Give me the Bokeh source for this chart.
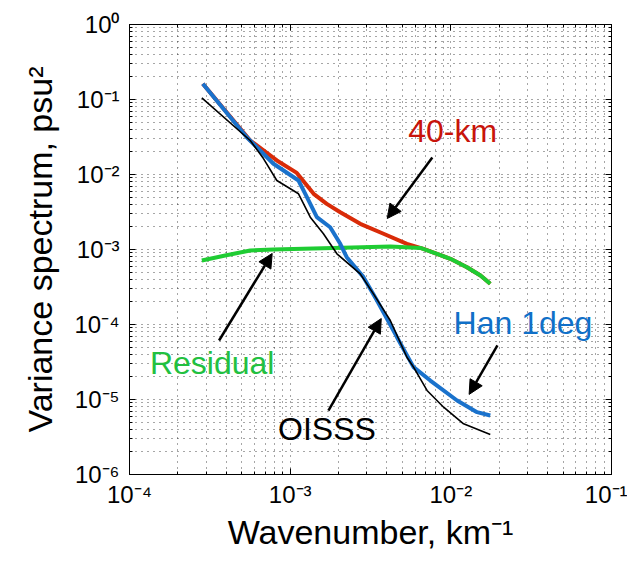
from bokeh.plotting import figure
from bokeh.models import (LogAxis, FixedTicker, CustomJSTickFormatter, Arrow,
                          NormalHead, Range1d, ColumnDataSource)
from bokeh.core.properties import value
from bokeh.embed import file_html
from bokeh.resources import INLINE

# ---------------- data ----------------
k_40km = [2.86e-4, 5.64e-4, 8.26e-4, 1.10e-3, 1.40e-3, 1.69e-3, 2.05e-3, 2.73e-3,
          3.81e-3, 5.33e-3, 6.76e-3, 8.20e-3, 9.93e-3, 1.26e-2, 1.53e-2, 1.76e-2]
s_40km = [0.162, 0.0284, 0.0154, 0.0105, 5.53e-3, 4.06e-3, 3.14e-3, 2.20e-3,
          1.62e-3, 1.19e-3, 1.02e-3, 8.77e-4, 7.52e-4, 5.81e-4, 4.50e-4, 3.49e-4]

k_resid = [2.82e-4, 3.94e-4, 5.64e-4, 7.87e-4, 1.85e-3, 4.20e-3, 6.46e-3, 8.20e-3,
           9.93e-3, 1.26e-2, 1.53e-2, 1.76e-2]
s_resid = [7.13e-4, 8.32e-4, 9.70e-4, 1.00e-3, 1.05e-3, 1.10e-3, 1.05e-3, 8.77e-4,
           7.52e-4, 5.81e-4, 4.50e-4, 3.49e-4]

k_han = [2.86e-4, 5.37e-4, 7.87e-4, 1.127e-3, 1.271e-3, 1.466e-3, 1.774e-3, 2.05e-3,
         2.25e-3, 2.86e-3, 3.47e-3, 4.62e-3, 5.86e-3, 7.45e-3, 1.094e-2, 1.456e-2, 1.76e-2]
s_han = [0.162, 0.0314, 0.0139, 8.32e-3, 4.98e-3, 2.70e-3, 1.98e-3, 1.19e-3,
         7.89e-4, 4.28e-4, 2.09e-4, 6.78e-5, 2.70e-5, 1.79e-5, 9.70e-6, 6.78e-6, 6.12e-6]

k_oisss = [2.82e-4, 5.64e-4, 6.82e-4, 8.26e-4, 1.127e-3, 1.334e-3, 1.611e-3, 1.954e-3,
           2.73e-3, 3.30e-3, 4.20e-3, 5.33e-3, 5.86e-3, 7.11e-3, 9.02e-3, 1.20e-2, 1.76e-2]
s_oisss = [0.1054, 0.0284, 0.0163, 8.32e-3, 5.53e-3, 2.70e-3, 1.62e-3, 8.77e-4,
           4.74e-4, 2.56e-4, 1.13e-4, 3.66e-5, 2.70e-5, 1.32e-5, 7.89e-6, 4.74e-6, 3.41e-6]

# annotations
ann_text = ["40-km", "Residual", "OISSS", "Han 1deg"]
ann_x = [5.43e-3, 1.34e-4, 8.41e-4, 1.04e-2]
ann_y = [3.86e-2, 3.11e-5, 4.10e-6, 1.06e-4]
ann_color = ["#c8140a", "#22c040", "#000000", "#1070c8"]

arrow_x0 = [7.67e-3, 3.61e-4, 1.73e-3, 1.95e-2]
arrow_y0 = [1.69e-2, 6.12e-5, 7.13e-6, 5.25e-5]
arrow_x1 = [4.02e-3, 7.73e-4, 3.69e-3, 1.30e-2]
arrow_y1 = [2.59e-3, 8.85e-4, 1.20e-4, 1.17e-5]

x_decades = [1e-4, 1e-3, 1e-2, 1e-1]
y_decades = [1e-6, 1e-5, 1e-4, 1e-3, 1e-2, 1e-1, 1e0]

FONT = "Liberation Sans"

p = figure(width=627, height=553, x_axis_type="log", y_axis_type="log",
           x_range=Range1d(1e-4, 1e-1), y_range=Range1d(1e-6, 1),
           output_backend="svg", toolbar_location=None,
           min_border_left=129, min_border_right=16, min_border_top=24,
           min_border_bottom=79)
p.background_fill_color = "white"
p.border_fill_color = "white"
p.outline_line_color = "black"
p.outline_line_width = 1

x_minor = [m * d for d in x_decades[:-1] for m in range(2, 10)]
y_minor = [m * d for d in y_decades[:-1] for m in range(2, 10)]

sup_js = """
const sup = {'-':'\u207b','0':'\u2070','1':'\u00b9','2':'\u00b2','3':'\u00b3','4':'\u2074',
             '5':'\u2075','6':'\u2076','7':'\u2077','8':'\u2078','9':'\u2079'};
const e = Math.round(Math.log10(tick));
return '10' + String(e).split('').map(c => sup[c]).join('');
"""

def style_axis(ax, labels=True):
    ax.axis_line_color = "black"
    ax.axis_line_width = 1
    ax.major_tick_in = 6
    ax.major_tick_out = 0
    ax.minor_tick_in = 3
    ax.minor_tick_out = 0
    ax.major_tick_line_color = "black"
    ax.minor_tick_line_color = "black"
    if labels:
        ax.major_label_text_font = FONT
        ax.major_label_text_font_size = "24px"
        ax.major_label_text_color = "black"
        ax.axis_label_text_font = FONT
        ax.axis_label_text_font_size = "34px"
        ax.axis_label_text_font_style = "normal"
        ax.axis_label_text_color = "black"

xa = p.below[0]
ya = p.left[0]
xa.ticker = FixedTicker(ticks=x_decades, minor_ticks=x_minor)
ya.ticker = FixedTicker(ticks=y_decades, minor_ticks=y_minor)
xa.formatter = CustomJSTickFormatter(code=sup_js)
ya.formatter = CustomJSTickFormatter(code=sup_js)
style_axis(xa)
style_axis(ya)
xa.axis_label = "Wavenumber, km\u207b\u00b9"
ya.axis_label = "Variance spectrum, psu\u00b2"
xa.major_label_standoff = 6
xa.axis_label_standoff = 2
ya.major_label_standoff = 10
ya.axis_label_standoff = 12

top = LogAxis(ticker=FixedTicker(ticks=x_decades, minor_ticks=x_minor),
              formatter=CustomJSTickFormatter(code="return ' ';"))
right = LogAxis(ticker=FixedTicker(ticks=y_decades, minor_ticks=y_minor),
                formatter=CustomJSTickFormatter(code="return ' ';"))
style_axis(top, labels=False)
style_axis(right, labels=False)
top.major_label_text_font_size = "1px"
right.major_label_text_font_size = "1px"
top.major_label_standoff = 0
right.major_label_standoff = 0
p.add_layout(top, "above")
p.add_layout(right, "right")

for g in (p.xgrid, p.ygrid):
    g.grid_line_color = "black"
    g.grid_line_dash = "1 5"
    g.grid_line_alpha = 0.7
    g.minor_grid_line_color = "black"
    g.minor_grid_line_dash = "1 5"
    g.minor_grid_line_alpha = 0.7

p.line(k_40km, s_40km, line_color="#d92b08", line_width=4)
p.line(k_resid, s_resid, line_color="#1fcc33", line_width=4)
p.line(k_han, s_han, line_color="#1a72cc", line_width=4)
p.line(k_oisss, s_oisss, line_color="black", line_width=1.6)

for x0, y0, x1, y1 in zip(arrow_x0, arrow_y0, arrow_x1, arrow_y1):
    p.add_layout(Arrow(x_start=x0, y_start=y0, x_end=x1, y_end=y1,
                       line_color="black", line_width=2.5,
                       end=NormalHead(size=14, fill_color="black", line_color="black")))

src = ColumnDataSource(dict(x=ann_x, y=ann_y, t=ann_text, c=ann_color))
p.text(x="x", y="y", text="t", text_color="c", source=src,
       text_font=value(FONT), text_font_size="32px",
       text_align="left", text_baseline="middle")

open("out.html", "w").write(file_html(p, INLINE))
